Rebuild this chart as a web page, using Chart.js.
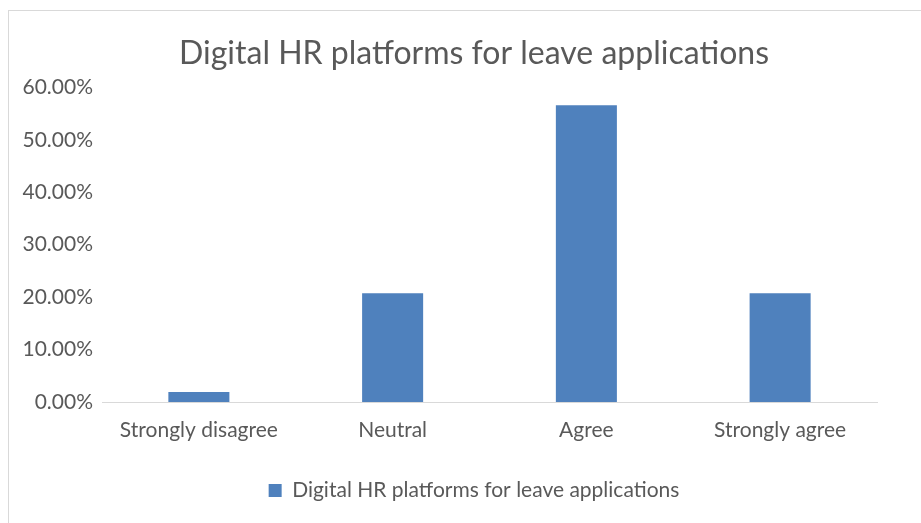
<!DOCTYPE html>
<html>
<head>
<meta charset="utf-8">
<script src="https://cdn.jsdelivr.net/npm/chart.js@4.4.1/dist/chart.umd.min.js"></script>
<style>
  html, body { margin: 0; padding: 0; background: #fff; overflow: hidden; }
  #frame {
    position: absolute; left: 8px; top: 10px;
    width: 1000px; height: 1000px;
    border: 1px solid #d9d9d9;
  }
  #wrap { position: absolute; left: 0; top: 0; width: 948px; height: 523px; }
</style>
</head>
<body>
<div id="frame"></div>
<div id="wrap"><canvas id="chart" width="948" height="523"></canvas></div>
<script>
const seriesName = "Digital HR platforms for leave applications";
const categories = ["Strongly disagree", "Neutral", "Agree", "Strongly agree"];
const values = [1.89, 20.75, 56.60, 20.75];
const tickMax = 60;
const tickStep = 10;

const textColor = "#595959";
const fontFamily = "Lato, 'Open Sans', sans-serif";

const ctx = document.getElementById("chart");

new Chart(ctx, {
    type: "bar",
    data: {
        labels: categories,
        datasets: [{
            label: seriesName,
            data: values,
            backgroundColor: "#4f81bd",
            borderWidth: 0,
            categoryPercentage: 1,
            barPercentage: 0.315
        }]
    },
    options: {
        responsive: false,
        animation: false,
        layout: {
            padding: { left: 0, right: 0, top: 0, bottom: 12 }
        },
        plugins: {
            title: {
                display: true,
                text: seriesName,
                color: textColor,
                font: { family: fontFamily, size: 32, weight: "normal" },
                padding: { top: 34, bottom: 15 }
            },
            legend: {
                position: "bottom",
                labels: {
                    color: textColor,
                    font: { family: fontFamily, size: 21 },
                    boxWidth: 13,
                    boxHeight: 13,
                    padding: 8
                }
            },
            tooltip: { enabled: false }
        },
        scales: {
            x: {
                afterFit: (scale) => { scale.height = 70; },
                grid: { display: false, drawTicks: false },
                border: { display: true, color: "#d9d9d9", width: 1 },
                ticks: {
                    color: textColor,
                    font: { family: fontFamily, size: 21 },
                    padding: 16,
                    maxRotation: 0
                }
            },
            y: {
                min: 0,
                max: tickMax,
                afterFit: (scale) => { scale.width = 102; },
                grid: { display: false, drawTicks: false },
                border: { display: false },
                ticks: {
                    stepSize: tickStep,
                    color: textColor,
                    font: { family: fontFamily, size: 21 },
                    padding: 9,
                    callback: (v) => v.toFixed(2) + "%"
                }
            },
            // empty right-hand gutter so the plot ends short of the frame edge
            gutter: {
                type: "linear",
                position: "right",
                afterFit: (scale) => { scale.width = 71; },
                grid: { display: false, drawTicks: false },
                border: { display: false },
                ticks: { display: false }
            }
        }
    }
});
</script>
</body>
</html>
